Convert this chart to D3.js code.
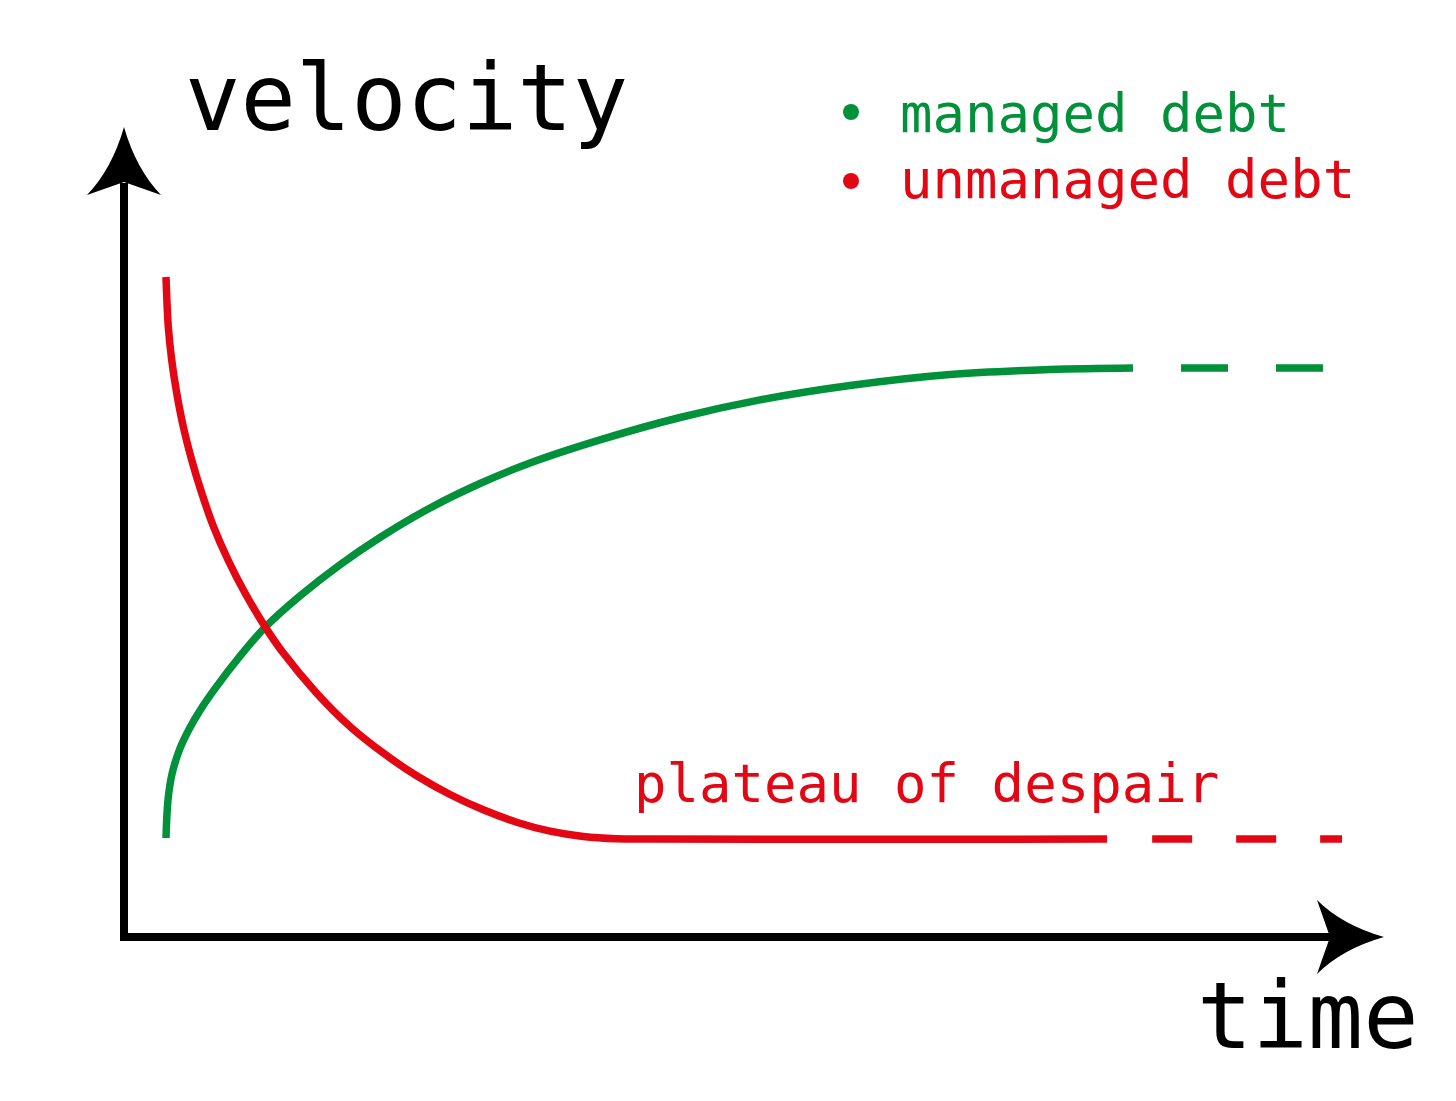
<!DOCTYPE html>
<html>
<head>
<meta charset="utf-8">
<script src="https://cdn.jsdelivr.net/npm/d3@7"></script>
<style>
  html, body { margin: 0; padding: 0; background: #fff; }
  svg { display: block; }
  text { font-family: "DejaVu Sans Mono", monospace; }
</style>
</head>
<body>
<svg id="chart" width="1456" height="1101"></svg>
<script>
// ---- data (time, velocity) in chart units ----
const seriesNames = ["managed debt", "unmanaged debt"];
const seriesColors = ["#00913a", "#e30613"];
const axisLabels = { x: "time", y: "velocity" };
const annotation = "plateau of despair";

const managedSolid = [
  [3.333, 12.222], [3.492, 16.914], [3.810, 20.123], [4.444, 23.284], [5.238, 25.877],
  [6.032, 27.975], [7.222, 30.660], [9.206, 34.673], [11.190, 38.222], [13.968, 42.111],
  [17.143, 45.963], [20.317, 49.321], [24.286, 52.963], [28.254, 55.988], [32.222, 58.519],
  [37.778, 61.370], [44.127, 64.136], [50.476, 66.309], [57.619, 68.086], [65.556, 69.444],
  [73.492, 70.062], [80.079, 70.247]
];
const managedDashed = [[83.89, 70.247], [95.16, 70.247]];

const unmanagedSolid = [
  [3.333, 81.481], [3.516, 75.346], [3.786, 71.235], [4.183, 67.160], [4.706, 63.000],
  [5.373, 58.889], [6.167, 54.815], [7.063, 50.827], [8.278, 46.481], [9.603, 42.469],
  [11.190, 38.321], [12.643, 35.049], [15.294, 30.099], [17.937, 25.988], [20.579, 22.704],
  [23.230, 19.901], [25.873, 17.593], [28.516, 15.704], [31.167, 14.173], [33.810, 13.062],
  [36.452, 12.407], [39.103, 12.123], [41.746, 12.086], [78.016, 12.086]
];
const unmanagedDashed = [[81.6, 12.086], [96.67, 12.086]];

// ---- scales ----
const x = d3.scaleLinear().domain([0, 100]).range([124, 1384]);
const y = d3.scaleLinear().domain([0, 100]).range([937, 127]);

const svg = d3.select("#chart");

// ---- axes with arrowheads ----
const ox = x(0), oy = y(0);
const xTip = x(100), yTip = y(100);
const axisW = 8;

svg.append("line")
  .attr("x1", ox).attr("y1", oy + axisW / 2)
  .attr("x2", ox).attr("y2", yTip + 56)
  .attr("stroke", "#000").attr("stroke-width", axisW);
svg.append("line")
  .attr("x1", ox - axisW / 2).attr("y1", oy)
  .attr("x2", xTip - 54).attr("y2", oy)
  .attr("stroke", "#000").attr("stroke-width", axisW);

// y arrowhead (pointing up)
svg.append("path")
  .attr("d", `M${ox},${yTip} Q${ox - 12},${yTip + 42} ${ox - 37},${yTip + 68}
              L${ox},${yTip + 55} L${ox + 37},${yTip + 68}
              Q${ox + 12},${yTip + 42} ${ox},${yTip} Z`)
  .attr("fill", "#000");
// x arrowhead (pointing right)
svg.append("path")
  .attr("d", `M${xTip},${oy} Q${xTip - 42},${oy - 12} ${xTip - 67},${oy - 37}
              L${xTip - 54},${oy} L${xTip - 67},${oy + 37}
              Q${xTip - 42},${oy + 12} ${xTip},${oy} Z`)
  .attr("fill", "#000");

// ---- lines ----
const line = d3.line().x(d => x(d[0])).y(d => y(d[1])).curve(d3.curveCatmullRom.alpha(0.5));
const straight = d3.line().x(d => x(d[0])).y(d => y(d[1]));
const lineW = 7.5;

svg.append("path").attr("d", line(managedSolid))
  .attr("fill", "none").attr("stroke", seriesColors[0]).attr("stroke-width", lineW);
svg.append("path").attr("d", straight(managedDashed))
  .attr("fill", "none").attr("stroke", seriesColors[0]).attr("stroke-width", lineW)
  .attr("stroke-dasharray", "47 48");

svg.append("path").attr("d", line(unmanagedSolid))
  .attr("fill", "none").attr("stroke", seriesColors[1]).attr("stroke-width", lineW);
svg.append("path").attr("d", straight(unmanagedDashed))
  .attr("fill", "none").attr("stroke", seriesColors[1]).attr("stroke-width", lineW)
  .attr("stroke-dasharray", "40 44");

// ---- texts ----
svg.append("text").text(axisLabels.y)
  .attr("x", 185).attr("y", 130).attr("font-size", 92).attr("fill", "#000");
svg.append("text").text(axisLabels.x)
  .attr("x", 1197).attr("y", 1048).attr("font-size", 92).attr("fill", "#000");

svg.append("text").text(annotation)
  .attr("x", 634).attr("y", 802).attr("font-size", 54).attr("fill", seriesColors[1]);

// ---- legend ----
const legendY = [132, 198];
const bulletY = [112, 181];
seriesNames.forEach((name, i) => {
  svg.append("circle").attr("cx", 851).attr("cy", bulletY[i]).attr("r", 8)
    .attr("fill", seriesColors[i]);
  svg.append("text").text(name)
    .attr("x", 900).attr("y", legendY[i]).attr("font-size", 54).attr("fill", seriesColors[i]);
});
</script>
</body>
</html>
